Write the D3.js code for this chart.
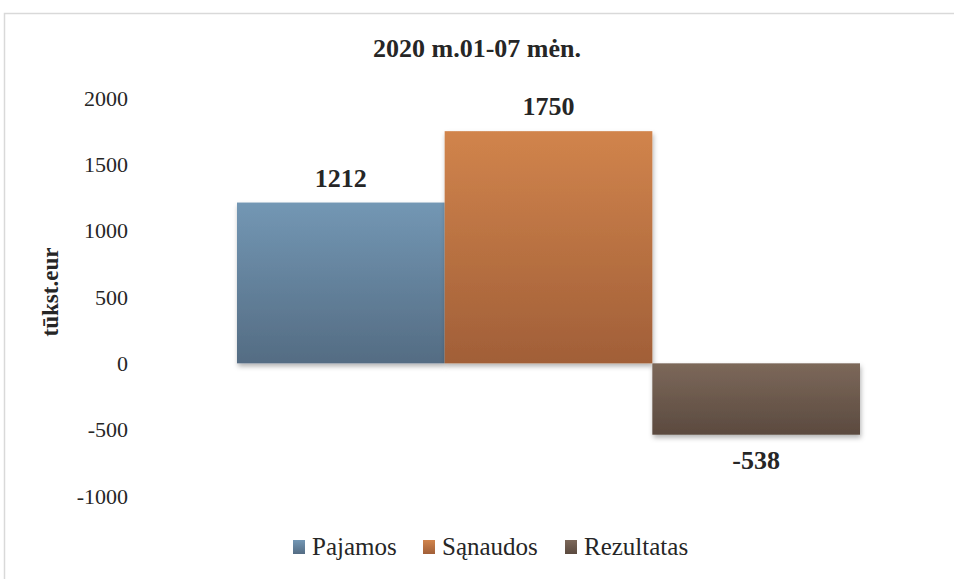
<!DOCTYPE html>
<html>
<head>
<meta charset="utf-8">
<script src="https://cdn.jsdelivr.net/npm/d3@7"></script>
<style>
  body { margin: 0; background: #fff; }
  svg text { font-family: "Liberation Serif", "DejaVu Serif", serif; fill: #262626; }
</style>
</head>
<body>
<div id="chart"></div>
<script>
const seriesNames = ["Pajamos", "Sąnaudos", "Rezultatas"];
const seriesValues = [1212, 1750, -538];
const yTicks = [2000, 1500, 1000, 500, 0, -500, -1000];
const colorTop = ["#7397b4", "#d1844c", "#7c685a"];
const colorBottom = ["#546c83", "#a15f38", "#5b4a3f"];

const width = 954, height = 579;

const svg = d3.select("#chart").append("svg")
  .attr("width", width)
  .attr("height", height);

const defs = svg.append("defs");
seriesNames.forEach(function (d, i) {
  const g = defs.append("linearGradient")
    .attr("id", "grad" + i)
    .attr("x1", 0).attr("y1", 0).attr("x2", 0).attr("y2", 1);
  g.append("stop").attr("offset", "0%").attr("stop-color", colorTop[i]);
  g.append("stop").attr("offset", "100%").attr("stop-color", colorBottom[i]);
});
const shadow = defs.append("filter").attr("id", "shadow")
  .attr("x", "-10%").attr("y", "-10%").attr("width", "130%").attr("height", "130%");
shadow.append("feDropShadow")
  .attr("dx", 1).attr("dy", 3).attr("stdDeviation", 2.5)
  .attr("flood-color", "#000").attr("flood-opacity", 0.3);

// chart border
svg.append("rect")
  .attr("x", 4.5).attr("y", 13.5)
  .attr("width", 980).attr("height", 620)
  .attr("fill", "none")
  .attr("stroke", "#d9d9d9")
  .attr("stroke-width", 1.5);

const y = d3.scaleLinear().domain([-1000, 2000]).range([496, 98]);
const x = d3.scaleBand().domain(seriesNames).range([237, 860]).padding(0);

// y axis labels
const yAxis = svg.append("g")
  .attr("transform", "translate(128,0)")
  .call(d3.axisLeft(y).tickValues(yTicks).tickSize(0).tickPadding(0).tickFormat(d => String(d)));
yAxis.select(".domain").remove();
yAxis.attr("font-family", null).attr("font-size", null);
yAxis.selectAll("text")
  .style("font-size", "22px")
  .attr("dy", "0.33em");

// bars
svg.append("g").selectAll("rect")
  .data(seriesValues)
  .join("rect")
  .attr("x", (d, i) => x(seriesNames[i]))
  .attr("y", d => y(Math.max(0, d)))
  .attr("width", x.bandwidth())
  .attr("height", d => Math.abs(y(d) - y(0)))
  .attr("fill", (d, i) => "url(#grad" + i + ")")
  .attr("filter", "url(#shadow)");

// data labels
svg.append("g").selectAll("text")
  .data(seriesValues)
  .join("text")
  .attr("x", (d, i) => x(seriesNames[i]) + x.bandwidth() / 2)
  .attr("y", d => d >= 0 ? y(d) - 16 : y(d) + 34)
  .attr("text-anchor", "middle")
  .style("font-size", "26px")
  .style("font-weight", "bold")
  .text(d => d);

// title
svg.append("text")
  .attr("x", 477).attr("y", 57)
  .attr("text-anchor", "middle")
  .style("font-size", "26px")
  .style("font-weight", "bold")
  .text("2020 m.01-07 mėn.");

// y label
svg.append("text")
  .attr("transform", "translate(58,292) rotate(-90)")
  .attr("text-anchor", "middle")
  .style("font-size", "23px")
  .style("font-weight", "bold")
  .text("tūkst.eur");

// legend
const legendX = [293, 423, 565];
const legend = svg.append("g").selectAll("g")
  .data(seriesNames)
  .join("g")
  .attr("transform", (d, i) => "translate(" + legendX[i] + ",540)");
legend.append("rect")
  .attr("width", 12).attr("height", 14)
  .attr("fill", (d, i) => "url(#grad" + i + ")");
legend.append("text")
  .attr("x", 19).attr("y", 15)
  .style("font-size", "25px")
  .text(d => d);
</script>
</body>
</html>
